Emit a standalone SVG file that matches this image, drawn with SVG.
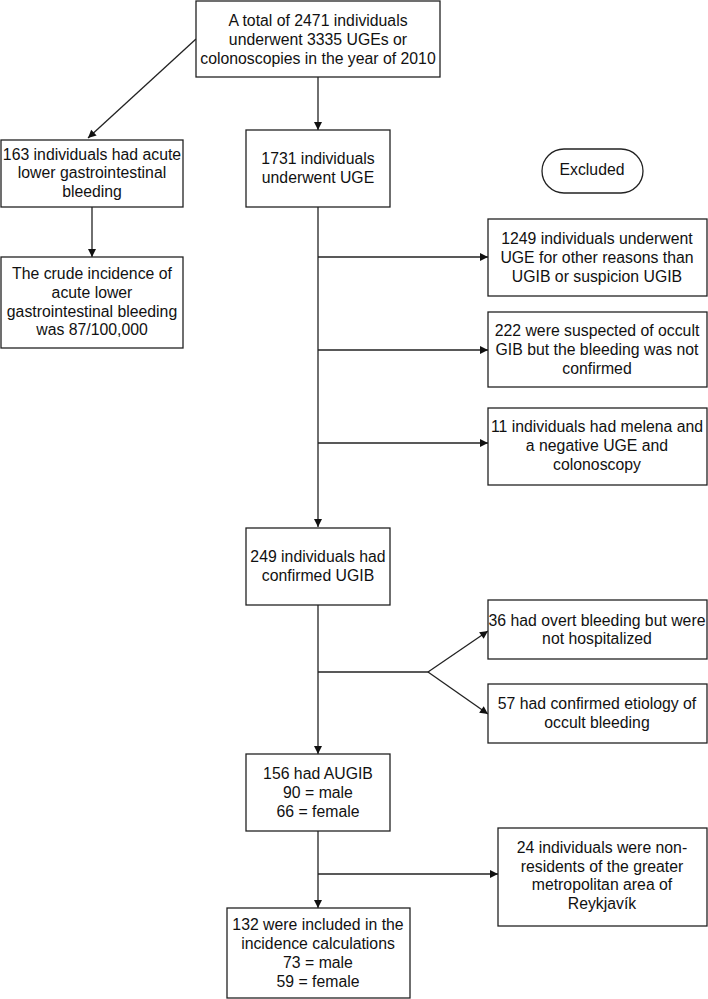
<svg xmlns="http://www.w3.org/2000/svg" width="708" height="999" viewBox="0 0 708 999">
<defs>
<marker id="ah" markerWidth="10" markerHeight="10" refX="9" refY="5" orient="auto" markerUnits="userSpaceOnUse">
<path d="M1,1 L9,5 L1,9 Z" fill="#111"/>
</marker>
<style>
.box{fill:#fff;stroke:#222;stroke-width:1.3}
.t{font-family:"Liberation Sans",Arial,sans-serif;font-size:15.8px;fill:#111;text-anchor:middle}
.c{fill:none;stroke:#222;stroke-width:1.3}
</style>
</defs>
<rect width="708" height="999" fill="#fff"/>
<g id="connectors">
<path class="c" d="M318,77 V130" marker-end="url(#ah)"/>
<path class="c" d="M196,39 L88,138" marker-end="url(#ah)"/>
<path class="c" d="M92,207 V257" marker-end="url(#ah)"/>
<path class="c" d="M318,207 V527" marker-end="url(#ah)"/>
<path class="c" d="M318,257 H488" marker-end="url(#ah)"/>
<path class="c" d="M318,350 H488" marker-end="url(#ah)"/>
<path class="c" d="M318,443 H488" marker-end="url(#ah)"/>
<path class="c" d="M318,605 V754" marker-end="url(#ah)"/>
<path class="c" d="M318,672 H428"/>
<path class="c" d="M428,672 L488,631" marker-end="url(#ah)"/>
<path class="c" d="M428,672 L488,714" marker-end="url(#ah)"/>
<path class="c" d="M318,831 V908" marker-end="url(#ah)"/>
<path class="c" d="M318,874 H498" marker-end="url(#ah)"/>
</g>
<g id="n-total">
<rect class="box" x="196" y="1" width="244" height="76"/>
<text class="t" x="318" y="26">A total of 2471 individuals</text>
<text class="t" x="318" y="45">underwent 3335 UGEs or</text>
<text class="t" x="318" y="64">colonoscopies in the year of 2010</text>
</g>
<g id="n-lower">
<rect class="box" x="1" y="140" width="182" height="67"/>
<text class="t" x="92" y="160">163 individuals had acute</text>
<text class="t" x="92" y="178">lower gastrointestinal</text>
<text class="t" x="92" y="197">bleeding</text>
</g>
<g id="n-crude">
<rect class="box" x="1" y="257" width="182" height="91"/>
<text class="t" x="92" y="279">The crude incidence of</text>
<text class="t" x="92" y="298">acute lower</text>
<text class="t" x="92" y="317">gastrointestinal bleeding</text>
<text class="t" x="92" y="335">was 87/100,000</text>
</g>
<g id="n-uge">
<rect class="box" x="246" y="130" width="144" height="77"/>
<text class="t" x="318" y="164">1731 individuals</text>
<text class="t" x="318" y="183">underwent UGE</text>
</g>
<g id="n-excluded">
<rect class="box" x="542" y="149" width="101" height="44" rx="22" ry="22"/>
<text class="t" x="592" y="175">Excluded</text>
</g>
<g id="n-1249">
<rect class="box" x="488" y="219" width="219" height="77"/>
<text class="t" x="597" y="244">1249 individuals underwent</text>
<text class="t" x="597" y="263">UGE for other reasons than</text>
<text class="t" x="597" y="282">UGIB or suspicion UGIB</text>
</g>
<g id="n-222">
<rect class="box" x="488" y="312" width="219" height="75"/>
<text class="t" x="597" y="336">222 were suspected of occult</text>
<text class="t" x="597" y="355">GIB but the bleeding was not</text>
<text class="t" x="597" y="374">confirmed</text>
</g>
<g id="n-11">
<rect class="box" x="488" y="408" width="219" height="77"/>
<text class="t" x="597" y="432">11 individuals had melena and</text>
<text class="t" x="597" y="451">a negative UGE and</text>
<text class="t" x="597" y="470">colonoscopy</text>
</g>
<g id="n-249">
<rect class="box" x="246" y="528" width="144" height="77"/>
<text class="t" x="318" y="562">249 individuals had</text>
<text class="t" x="318" y="581">confirmed UGIB</text>
</g>
<g id="n-36">
<rect class="box" x="488" y="600" width="219" height="59"/>
<text class="t" x="597" y="626">36 had overt bleeding but were</text>
<text class="t" x="597" y="644">not hospitalized</text>
</g>
<g id="n-57">
<rect class="box" x="488" y="684" width="219" height="59"/>
<text class="t" x="597" y="709">57 had confirmed etiology of</text>
<text class="t" x="597" y="728">occult bleeding</text>
</g>
<g id="n-156">
<rect class="box" x="246" y="754" width="144" height="77"/>
<text class="t" x="318" y="779">156 had AUGIB</text>
<text class="t" x="318" y="798">90 = male</text>
<text class="t" x="318" y="817">66 = female</text>
</g>
<g id="n-24">
<rect class="box" x="498" y="828" width="209" height="98"/>
<text class="t" x="602" y="853">24 individuals were non-</text>
<text class="t" x="602" y="872">residents of the greater</text>
<text class="t" x="602" y="890">metropolitan area of</text>
<text class="t" x="602" y="909">Reykjavík</text>
</g>
<g id="n-132">
<rect class="box" x="227" y="908" width="183" height="90"/>
<text class="t" x="318" y="930">132 were included in the</text>
<text class="t" x="318" y="949">incidence calculations</text>
<text class="t" x="318" y="968">73 = male</text>
<text class="t" x="318" y="987">59 = female</text>
</g>
</svg>
